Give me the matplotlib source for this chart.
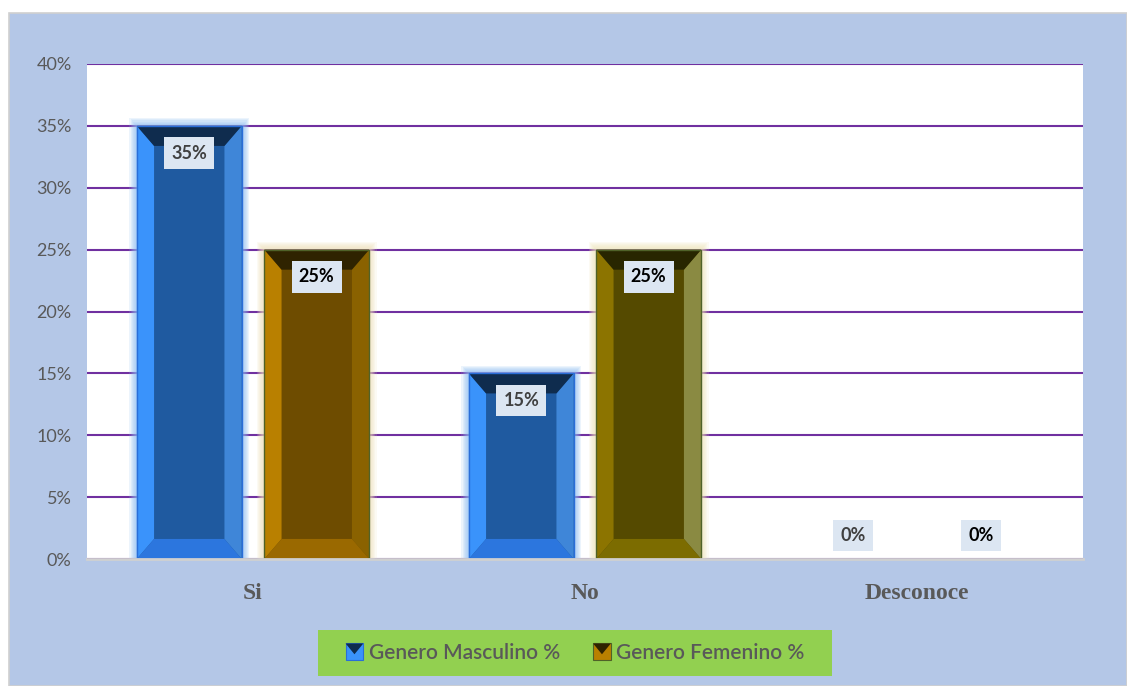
#!/usr/bin/env python3
"""Bar chart: Genero Masculino / Femenino por respuesta (Si, No, Desconoce)."""

import matplotlib

matplotlib.use("Agg")
import matplotlib.pyplot as plt
import numpy as np
from matplotlib.legend_handler import HandlerBase
from matplotlib.patches import Polygon, Rectangle
from matplotlib.ticker import FuncFormatter, MultipleLocator

categories = ["Si", "No", "Desconoce"]
masculino = [35, 15, 0]
femenino = [25, 25, 0]
series_names = ["Genero Masculino %", "Genero Femenino %"]

CHART_BG = "#B4C7E7"
GRID = "#7030A0"
LEGEND_BG = "#92D050"
TEXT_GRAY = "#595959"

# bevel shades per bar: (center, left, right, top, bottom, edge, glow)
MALE = ("#1F5AA0", "#3A93FB", "#3F86D8", "#0F2C4E", "#2C76DE", "#2A6ED8", "#8DBDF2")
FEMALE = [
    ("#6E4C00", "#B98000", "#8A6200", "#2F2300", "#9A6900", "#4F6228", "#EFE0B8"),
    ("#554A00", "#8C7400", "#8A8A42", "#282600", "#7C6C00", "#4F6228", "#EFE6B8"),
    ("#554A00", "#8C7400", "#8A8A42", "#282600", "#7C6C00", "#4F6228", "#EFE6B8"),
]

plt.rcParams["font.family"] = ["Lato", "DejaVu Sans"]

fig = plt.figure(figsize=(11.27, 6.86), dpi=100)
fig.patch.set_facecolor("white")
fig.add_artist(
    Rectangle((9 / 1127, 0), 1 - 9 / 1127, 1 - 13 / 686, transform=fig.transFigure,
              facecolor=CHART_BG, edgecolor="#D0D0D0", linewidth=1.2, zorder=-2)
)
ax = fig.add_axes([87 / 1127, 127 / 686, 996 / 1127, 495 / 686])
ax.set_facecolor("white")

x = np.arange(len(categories))
width = 0.316
offset = 0.192
bars_m = ax.bar(x - offset, masculino, width, color=MALE[0], zorder=3, linewidth=0)
bars_f = ax.bar(x + offset, femenino, width, color=[c[0] for c in FEMALE], zorder=3, linewidth=0)

bx, ty, by = 0.052, 1.62, 1.62


def bevel(bar, shades):
    x0 = bar.get_x()
    x1 = x0 + bar.get_width()
    h = bar.get_height()
    if h <= 0:
        return
    center, left, right, top, bottom, edge, glow = shades
    # soft glow around the bar, built from thin translucent layers
    for pad in np.linspace(0.022, 0.003, 7):
        ax.add_patch(Rectangle((x0 - pad, 0), bar.get_width() + 2 * pad, h + pad * 28,
                               facecolor=glow, edgecolor="none", alpha=0.16, zorder=2))
    faces = [
        ([(x0, 0), (x0 + bx, by), (x0 + bx, h - ty), (x0, h)], left),
        ([(x1, 0), (x1, h), (x1 - bx, h - ty), (x1 - bx, by)], right),
        ([(x0, h), (x1, h), (x1 - bx, h - ty), (x0 + bx, h - ty)], top),
        ([(x0, 0), (x0 + bx, by), (x1 - bx, by), (x1, 0)], bottom),
    ]
    for pts, col in faces:
        ax.add_patch(Polygon(pts, closed=True, facecolor=col, edgecolor="none", zorder=4))
    ax.add_patch(Rectangle((x0, 0), x1 - x0, h, facecolor="none", edgecolor=edge,
                           linewidth=1.0, zorder=5))


for bar in bars_m:
    bevel(bar, MALE)
for bar, shades in zip(bars_f, FEMALE):
    bevel(bar, shades)


def value_label(bar, color):
    h = bar.get_height()
    cx = bar.get_x() + bar.get_width() / 2
    y = h - 2.2 if h > 0 else 1.9
    ax.text(cx, y, f"{h:.0f}%", ha="center", va="center", fontsize=13,
            fontweight="bold", color=color, zorder=6,
            bbox=dict(boxstyle="square,pad=0.4", facecolor="#DCE6F2", edgecolor="none"))


for bar in bars_m:
    value_label(bar, "#404040")
for bar in bars_f:
    value_label(bar, "#000000")

ax.set_xlim(-0.5, len(categories) - 0.5)
ax.set_ylim(0, 40)
ax.yaxis.set_major_locator(MultipleLocator(5))
ax.yaxis.set_major_formatter(FuncFormatter(lambda v, _: f"{v:.0f}%"))
ax.grid(axis="y", color=GRID, linewidth=1.5, zorder=1)
ax.set_axisbelow(True)
for side in ["top", "right", "left"]:
    ax.spines[side].set_visible(False)
ax.spines["bottom"].set_color("#D0D0D0")
ax.spines["bottom"].set_linewidth(2.0)
ax.spines["bottom"].set_zorder(7)
ax.tick_params(axis="y", length=0, pad=11, labelsize=13, labelcolor=TEXT_GRAY)
ax.tick_params(axis="x", length=0, pad=17)
ax.set_xticks(x)
ax.set_xticklabels(categories, fontsize=17, fontweight="bold", color=TEXT_GRAY,
                   family="Liberation Serif")


class BevelIcon(HandlerBase):
    """Small square legend key with a dark top wedge, like the bar bevel."""

    def create_artists(self, legend, shades, xdescent, ydescent, width, height, fontsize, trans):
        x0, y0 = -xdescent, -ydescent
        body = Rectangle((x0, y0), width, height, facecolor=shades[1],
                         edgecolor=shades[5], linewidth=0.8, transform=trans)
        wedge = Polygon([(x0, y0 + height), (x0 + width, y0 + height),
                         (x0 + width / 2, y0 + height * 0.35)],
                        closed=True, facecolor=shades[3], edgecolor="none", transform=trans)
        return [body, wedge]


# legend panel
fig.add_artist(
    Rectangle((318 / 1127, 10 / 686), 514 / 1127, 46 / 686, transform=fig.transFigure,
              facecolor=LEGEND_BG, edgecolor="none", zorder=1)
)
keys = [MALE, FEMALE[0]]
fig.legend(keys, series_names, loc="center", bbox_to_anchor=(575 / 1127, 33 / 686),
           handler_map={tuple: BevelIcon()},
           ncol=2, frameon=False, prop={"size": 15, "weight": "semibold"},
           labelcolor=TEXT_GRAY,
           handlelength=0.85, handleheight=0.85, handletextpad=0.25, columnspacing=1.6)

fig.savefig("out.png", dpi=100)
